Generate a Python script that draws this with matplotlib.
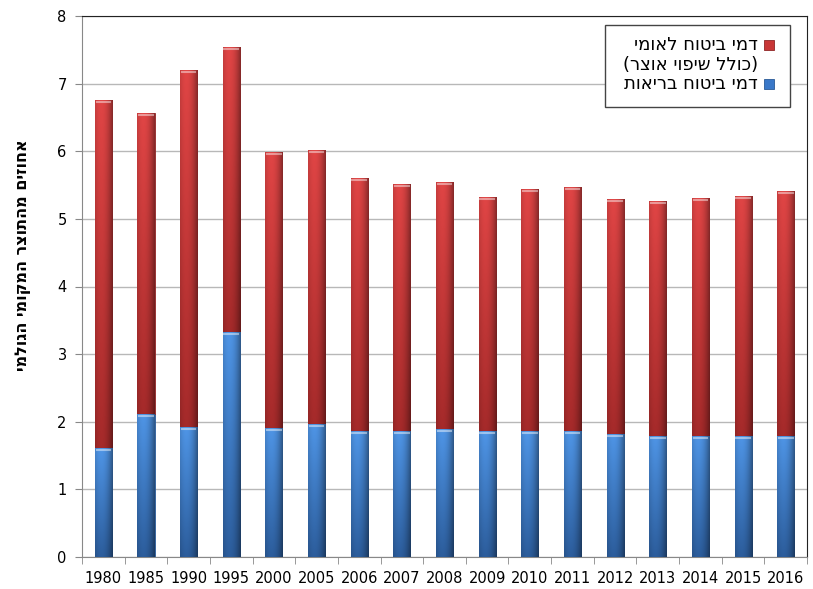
import numpy as np
import matplotlib
matplotlib.use("Agg")
import matplotlib.pyplot as plt
from matplotlib.patches import Rectangle

plt.rcParams['font.family'] = ['DejaVu Sans']

years = ['1980', '1985', '1990', '1995', '2000', '2005', '2006', '2007', '2008',
         '2009', '2010', '2011', '2012', '2013', '2014', '2015', '2016']
# totals (national insurance incl. treasury) and health-insurance part
total = [6.76, 6.57, 7.20, 7.54, 5.99, 6.02, 5.61, 5.52, 5.55,
         5.33, 5.44, 5.47, 5.30, 5.27, 5.31, 5.34, 5.41]
health = [1.61, 2.12, 1.92, 3.33, 1.91, 1.97, 1.86, 1.86, 1.89,
          1.86, 1.86, 1.86, 1.82, 1.79, 1.79, 1.79, 1.79]
national = [t - h for t, h in zip(total, health)]

label_red = ["דמי ביטוח לאומי", "(כולל שיפוי אוצר)"]
label_blue = "דמי ביטוח בריאות"
ylabel = "אחוזים מהתוצר המקומי הגולמי"


def visual(s):
    # matplotlib has no bidi, so reverse and mirror brackets
    s = s[::-1]
    return s.translate(str.maketrans("()", ")("))


def shade(ax, patches, top_col, bot_col):
    # vertical gradient inside each bar, a bit lighter on the left
    cmap = matplotlib.colors.LinearSegmentedColormap.from_list("g", [bot_col, top_col])
    grad = np.linspace(0, 1, 100).reshape(-1, 1)
    u = np.linspace(0, 1, 30)
    horiz = 1 - 0.4 * ((u - 0.35) / 0.65) ** 2
    for p in patches:
        x0, y0 = p.get_x(), p.get_y()
        w, h = p.get_width(), p.get_height()
        rgb = cmap(grad)[:, :, :3] * horiz.reshape(1, -1, 1)
        im = ax.imshow(rgb, extent=(x0, x0 + w, y0, y0 + h), origin='lower',
                       aspect='auto', zorder=3)
        im.set_clip_path(p)
        # light cap at the top of each segment
        ax.plot([x0 + w * 0.1, x0 + w * 0.9], [y0 + h - 0.03] * 2,
                color='white', alpha=0.45, linewidth=1.5, zorder=4)


fig = plt.figure(figsize=(8.13, 5.89), dpi=100)
ax = fig.add_axes([82 / 813, 1 - 557 / 589, (807 - 82) / 813, (557 - 16) / 589])

x = np.arange(len(years))
b1 = ax.bar(x, health, width=0.4, color='#3a78c8', edgecolor='#2a5a96',
            linewidth=0.6, zorder=2)
b2 = ax.bar(x, national, width=0.4, bottom=health, color='#c83636',
            edgecolor='#8e2525', linewidth=0.6, zorder=2)
shade(ax, b1, '#4f95e6', '#2c5d9c')
shade(ax, b2, '#e04545', '#a52a2a')

ax.set_xlim(-0.5, len(years) - 0.5)
ax.set_ylim(0, 8)
ax.set_yticks(range(0, 9))
ax.yaxis.grid(True, color='#b8b8b8', linewidth=1)
ax.set_axisbelow(True)

ax.set_xticks(x)
ax.set_xticklabels(years, fontsize=10.5)
ax.set_xticks(np.arange(-0.5, len(years)), minor=True)
ax.tick_params(axis='x', which='major', length=0, pad=10)
ax.tick_params(axis='x', which='minor', length=5, color='#888888', direction='out')
ax.tick_params(axis='y', length=5, color='#888888', labelsize=10.5, pad=6)

ax.spines['left'].set_color('#888888')
ax.spines['bottom'].set_color('#888888')
ax.spines['top'].set_color('#222222')
ax.spines['right'].set_color('#222222')

fig.text(0.028, (589 - 255) / 589, visual(ylabel), rotation=90, fontsize=11.5,
         fontweight='bold', ha='center', va='center')


# legend drawn by hand, in figure pixels
def fx(px):
    return px / 813


def fy(py):
    return 1 - py / 589


box = Rectangle((fx(605), fy(107)), fx(790) - fx(605), fy(25) - fy(107),
                transform=fig.transFigure, facecolor='white', edgecolor='#444444',
                linewidth=1, zorder=10)
fig.patches.append(box)
rows = [(45, visual(label_red[0]), '#c83636', '#8e2525'),
        (65, visual(label_red[1]), None, None),
        (84, visual(label_blue), '#3a78c8', '#2a5a96')]
for py, txt, fc, ec in rows:
    fig.text(fx(758), fy(py), txt, ha='right', va='center', fontsize=13, zorder=11)
    if fc:
        fig.patches.append(Rectangle((fx(764), fy(py + 5)), fx(10), fy(0) - fy(10),
                                     transform=fig.transFigure, facecolor=fc,
                                     edgecolor=ec, linewidth=0.6, zorder=11))

fig.savefig("out.png", dpi=100)
